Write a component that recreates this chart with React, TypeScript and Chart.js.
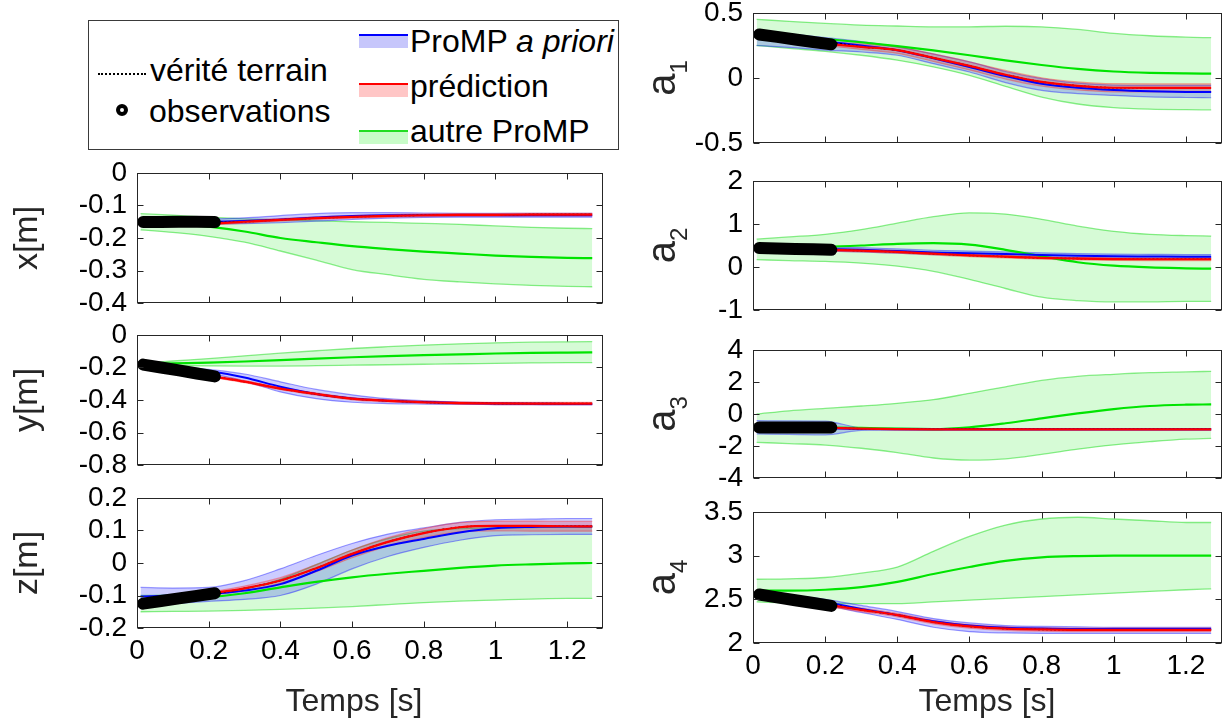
import React, { useEffect, useRef } from "react";
import { Chart, registerables } from "chart.js";

Chart.register(...registerables);

const FONT = "'Liberation Sans', Arial, Helvetica, sans-serif";

// ---------- shared axes / grids ----------
const T = [0.01, 0.1, 0.2, 0.3, 0.4, 0.5, 0.6, 0.7, 0.8, 0.9, 1.0, 1.1, 1.2, 1.27];
const TP = [0.217, 0.3, 0.4, 0.5, 0.6, 0.7, 0.8, 0.9, 1.0, 1.1, 1.2, 1.27];
const TOBS = [0.017, 0.067, 0.117, 0.167, 0.217];
const X_TICKS = [0, 0.2, 0.4, 0.6, 0.8, 1, 1.2];
const X_MAX = 1.3;
const X_TITLE = "Temps [s]";

// ---------- x[m] ----------
const xTicks = [0, -0.1, -0.2, -0.3, -0.4];
const xGreenMean = [-0.150, -0.155, -0.165, -0.180, -0.200, -0.213, -0.225, -0.234, -0.242, -0.248, -0.254, -0.258, -0.261, -0.262];
const xGreenUp = [-0.125, -0.130, -0.136, -0.141, -0.144, -0.147, -0.150, -0.152, -0.155, -0.158, -0.163, -0.167, -0.170, -0.171];
const xGreenLo = [-0.175, -0.183, -0.195, -0.213, -0.240, -0.268, -0.297, -0.313, -0.327, -0.335, -0.341, -0.346, -0.349, -0.350];
const xBlueMean = [-0.150, -0.150, -0.150, -0.148, -0.143, -0.137, -0.132, -0.130, -0.130, -0.130, -0.130, -0.130, -0.130, -0.130];
const xBlueUp = [-0.143, -0.143, -0.142, -0.138, -0.131, -0.125, -0.122, -0.122, -0.123, -0.124, -0.124, -0.124, -0.124, -0.124];
const xBlueLo = [-0.157, -0.157, -0.157, -0.156, -0.153, -0.148, -0.143, -0.139, -0.137, -0.136, -0.136, -0.136, -0.136, -0.136];
const xRedMean = [-0.155, -0.150, -0.144, -0.139, -0.135, -0.132, -0.130, -0.129, -0.129, -0.128, -0.128, -0.128];
const xRedUp = [-0.151, -0.146, -0.140, -0.135, -0.131, -0.128, -0.126, -0.125, -0.125, -0.124, -0.124, -0.124];
const xRedLo = [-0.159, -0.154, -0.148, -0.143, -0.139, -0.136, -0.134, -0.133, -0.133, -0.132, -0.132, -0.132];
const xTruth = [-0.151, -0.151, -0.152, -0.150, -0.144, -0.139, -0.135, -0.132, -0.130, -0.129, -0.129, -0.128, -0.128, -0.128];
const xObs = [-0.151, -0.151, -0.150, -0.150, -0.151];

// ---------- y[m] ----------
const yTicks = [0, -0.2, -0.4, -0.6, -0.8];
const yGreenMean = [-0.180, -0.175, -0.170, -0.163, -0.155, -0.145, -0.137, -0.130, -0.124, -0.119, -0.114, -0.110, -0.108, -0.107];
const yGreenUp = [-0.175, -0.160, -0.145, -0.128, -0.112, -0.097, -0.083, -0.072, -0.062, -0.054, -0.048, -0.044, -0.042, -0.041];
const yGreenLo = [-0.185, -0.188, -0.190, -0.191, -0.191, -0.189, -0.186, -0.183, -0.180, -0.177, -0.175, -0.172, -0.170, -0.170];
const yBlueMean = [-0.182, -0.200, -0.222, -0.262, -0.318, -0.363, -0.390, -0.405, -0.413, -0.418, -0.421, -0.423, -0.424, -0.425];
const yBlueUp = [-0.175, -0.192, -0.212, -0.240, -0.288, -0.335, -0.368, -0.392, -0.405, -0.413, -0.417, -0.419, -0.420, -0.420];
const yBlueLo = [-0.190, -0.210, -0.235, -0.285, -0.350, -0.392, -0.414, -0.422, -0.425, -0.427, -0.428, -0.429, -0.430, -0.430];
const yRedMean = [-0.257, -0.287, -0.330, -0.363, -0.392, -0.405, -0.414, -0.419, -0.421, -0.422, -0.422, -0.422];
const yRedUp = [-0.250, -0.280, -0.323, -0.356, -0.385, -0.398, -0.407, -0.412, -0.414, -0.415, -0.415, -0.415];
const yRedLo = [-0.264, -0.294, -0.337, -0.370, -0.399, -0.412, -0.421, -0.426, -0.428, -0.429, -0.429, -0.429];
const yTruth = [-0.180, -0.216, -0.250, -0.287, -0.330, -0.363, -0.392, -0.405, -0.414, -0.419, -0.421, -0.422, -0.422, -0.422];
const yObs = [-0.182, -0.200, -0.218, -0.237, -0.255];

// ---------- z[m] ----------
const zTicks = [0.2, 0.1, 0, -0.1, -0.2];
const zGreenMean = [-0.115, -0.110, -0.105, -0.093, -0.075, -0.058, -0.044, -0.033, -0.024, -0.015, -0.008, -0.004, -0.001, 0.000];
const zGreenUp = [-0.100, -0.098, -0.094, -0.080, -0.050, -0.005, 0.040, 0.075, 0.098, 0.106, 0.108, 0.109, 0.110, 0.110];
const zGreenLo = [-0.150, -0.149, -0.148, -0.146, -0.143, -0.139, -0.134, -0.128, -0.122, -0.117, -0.114, -0.111, -0.109, -0.109];
const zBlueMean = [-0.103, -0.100, -0.096, -0.085, -0.065, -0.024, 0.023, 0.053, 0.074, 0.094, 0.107, 0.111, 0.112, 0.112];
const zBlueUp = [-0.075, -0.077, -0.075, -0.054, -0.018, 0.023, 0.060, 0.089, 0.108, 0.125, 0.133, 0.135, 0.137, 0.137];
const zBlueLo = [-0.130, -0.125, -0.118, -0.112, -0.100, -0.065, -0.018, 0.020, 0.048, 0.070, 0.084, 0.087, 0.088, 0.088];
const zRedMean = [-0.092, -0.078, -0.054, -0.016, 0.028, 0.065, 0.092, 0.110, 0.114, 0.114, 0.113, 0.113];
const zRedUp = [-0.087, -0.071, -0.045, -0.005, 0.040, 0.078, 0.106, 0.124, 0.129, 0.129, 0.128, 0.128];
const zRedLo = [-0.097, -0.085, -0.063, -0.027, 0.016, 0.052, 0.078, 0.096, 0.099, 0.098, 0.098, 0.098];
const zTruth = [-0.125, -0.115, -0.098, -0.078, -0.054, -0.016, 0.028, 0.065, 0.092, 0.110, 0.114, 0.114, 0.113, 0.113];
const zObs = [-0.125, -0.117, -0.109, -0.101, -0.093];

// ---------- a1 ----------
const a1Ticks = [0.5, 0, -0.5];
const a1GreenMean = [0.340, 0.320, 0.300, 0.275, 0.245, 0.212, 0.175, 0.135, 0.100, 0.070, 0.050, 0.040, 0.035, 0.033];
const a1GreenUp = [0.451, 0.436, 0.420, 0.407, 0.400, 0.394, 0.394, 0.398, 0.394, 0.374, 0.343, 0.325, 0.314, 0.310];
const a1GreenLo = [0.250, 0.228, 0.205, 0.175, 0.137, 0.085, 0.020, -0.065, -0.147, -0.200, -0.228, -0.240, -0.244, -0.245];
const a1BlueMean = [0.330, 0.305, 0.280, 0.250, 0.214, 0.152, 0.085, 0.015, -0.044, -0.075, -0.092, -0.102, -0.107, -0.108];
const a1BlueUp = [0.360, 0.340, 0.310, 0.280, 0.240, 0.185, 0.124, 0.050, -0.005, -0.040, -0.055, -0.057, -0.057, -0.057];
const a1BlueLo = [0.250, 0.235, 0.215, 0.200, 0.175, 0.110, 0.046, -0.035, -0.095, -0.120, -0.134, -0.145, -0.150, -0.152];
const a1RedMean = [0.260, 0.240, 0.214, 0.155, 0.093, 0.025, -0.030, -0.060, -0.075, -0.076, -0.076, -0.076];
const a1RedUp = [0.275, 0.262, 0.240, 0.185, 0.125, 0.058, 0.002, -0.030, -0.044, -0.045, -0.045, -0.045];
const a1RedLo = [0.245, 0.220, 0.190, 0.127, 0.062, -0.008, -0.062, -0.092, -0.106, -0.107, -0.107, -0.107];
const a1Truth = [0.335, 0.310, 0.280, 0.240, 0.214, 0.155, 0.093, 0.025, -0.030, -0.060, -0.075, -0.076, -0.076, -0.076];
const a1Obs = [0.335, 0.316, 0.296, 0.277, 0.259];

// ---------- a2 ----------
const a2Ticks = [2, 1, 0, -1];
const a2GreenMean = [0.45, 0.46, 0.47, 0.50, 0.54, 0.555, 0.52, 0.40, 0.25, 0.11, 0.03, -0.01, -0.03, -0.04];
const a2GreenUp = [0.65, 0.70, 0.76, 0.87, 1.02, 1.17, 1.26, 1.23, 1.11, 0.95, 0.83, 0.76, 0.73, 0.72];
const a2GreenLo = [0.17, 0.15, 0.13, 0.09, 0.02, -0.10, -0.29, -0.50, -0.70, -0.78, -0.81, -0.81, -0.80, -0.80];
const a2BlueMean = [0.45, 0.44, 0.42, 0.40, 0.37, 0.34, 0.32, 0.30, 0.28, 0.26, 0.25, 0.245, 0.24, 0.24];
const a2BlueUp = [0.50, 0.49, 0.47, 0.45, 0.42, 0.39, 0.37, 0.35, 0.33, 0.31, 0.30, 0.295, 0.29, 0.29];
const a2BlueLo = [0.40, 0.39, 0.37, 0.35, 0.32, 0.29, 0.27, 0.25, 0.23, 0.21, 0.20, 0.195, 0.19, 0.19];
const a2RedMean = [0.40, 0.38, 0.35, 0.31, 0.27, 0.24, 0.21, 0.195, 0.185, 0.18, 0.18, 0.18];
const a2RedUp = [0.43, 0.41, 0.38, 0.34, 0.30, 0.27, 0.24, 0.225, 0.215, 0.21, 0.21, 0.21];
const a2RedLo = [0.37, 0.35, 0.32, 0.28, 0.24, 0.21, 0.18, 0.165, 0.155, 0.15, 0.15, 0.15];
const a2Truth = [0.44, 0.42, 0.40, 0.38, 0.35, 0.31, 0.27, 0.24, 0.21, 0.195, 0.185, 0.18, 0.18, 0.18];
const a2Obs = [0.44, 0.43, 0.42, 0.41, 0.40];

// ---------- a3 ----------
const a3Ticks = [4, 2, 0, -2, -4];
const a3GreenMean = [-0.85, -0.85, -0.85, -0.87, -0.92, -0.94, -0.83, -0.58, -0.27, 0.04, 0.31, 0.50, 0.58, 0.60];
const a3GreenUp = [0.00, 0.20, 0.35, 0.50, 0.67, 0.90, 1.29, 1.70, 2.10, 2.35, 2.48, 2.58, 2.63, 2.67];
const a3GreenLo = [-1.77, -1.85, -1.94, -2.14, -2.41, -2.75, -2.88, -2.80, -2.52, -2.20, -1.93, -1.73, -1.57, -1.52];
const a3BlueMean = [-0.85, -0.87, -0.90, -0.93, -0.95, -0.96, -0.96, -0.96, -0.96, -0.96, -0.96, -0.96, -0.96, -0.96];
const a3BlueUp = [-0.42, -0.43, -0.45, -0.86, -0.90, -0.91, -0.91, -0.91, -0.91, -0.91, -0.91, -0.91, -0.91, -0.91];
const a3BlueLo = [-1.25, -1.27, -1.30, -1.02, -1.00, -1.01, -1.01, -1.01, -1.01, -1.01, -1.01, -1.01, -1.01, -1.01];
const a3RedMean = [-0.86, -0.92, -0.95, -0.96, -0.96, -0.96, -0.96, -0.96, -0.96, -0.96, -0.96, -0.96];
const a3RedUp = [-0.82, -0.88, -0.91, -0.92, -0.92, -0.92, -0.92, -0.92, -0.92, -0.92, -0.92, -0.92];
const a3RedLo = [-0.90, -0.96, -0.99, -1.00, -1.00, -1.00, -1.00, -1.00, -1.00, -1.00, -1.00, -1.00];
const a3Truth = [-0.85, -0.85, -0.86, -0.92, -0.95, -0.96, -0.96, -0.96, -0.96, -0.96, -0.96, -0.96, -0.96, -0.96];
const a3Obs = [-0.85, -0.85, -0.85, -0.85, -0.85];

// ---------- a4 ----------
const a4Ticks = [3.5, 3, 2.5, 2];
const a4GreenMean = [2.60, 2.60, 2.61, 2.64, 2.70, 2.79, 2.87, 2.94, 2.98, 2.995, 3.00, 3.00, 3.00, 3.00];
const a4GreenUp = [2.73, 2.735, 2.75, 2.80, 2.87, 3.05, 3.22, 3.35, 3.42, 3.44, 3.42, 3.40, 3.38, 3.38];
const a4GreenLo = [2.47, 2.46, 2.455, 2.45, 2.45, 2.47, 2.49, 2.51, 2.53, 2.55, 2.57, 2.59, 2.61, 2.62];
const a4BlueMean = [2.565, 2.52, 2.47, 2.39, 2.32, 2.25, 2.20, 2.175, 2.165, 2.16, 2.16, 2.16, 2.16, 2.16];
const a4BlueUp = [2.59, 2.55, 2.50, 2.43, 2.36, 2.28, 2.23, 2.20, 2.19, 2.185, 2.18, 2.18, 2.18, 2.18];
const a4BlueLo = [2.54, 2.49, 2.43, 2.35, 2.27, 2.18, 2.13, 2.115, 2.11, 2.11, 2.11, 2.11, 2.11, 2.11];
const a4RedMean = [2.43, 2.38, 2.32, 2.24, 2.19, 2.165, 2.155, 2.15, 2.15, 2.15, 2.15, 2.15];
const a4RedUp = [2.45, 2.40, 2.34, 2.26, 2.21, 2.185, 2.175, 2.17, 2.17, 2.17, 2.17, 2.17];
const a4RedLo = [2.41, 2.36, 2.30, 2.22, 2.17, 2.145, 2.135, 2.13, 2.13, 2.13, 2.13, 2.13];
const a4Truth = [2.555, 2.52, 2.455, 2.38, 2.32, 2.24, 2.19, 2.165, 2.155, 2.15, 2.15, 2.15, 2.15, 2.15];
const a4Obs = [2.555, 2.522, 2.49, 2.458, 2.425];

// ---------- layout (pixels) ----------
const LEFT_COL = { L: 137, R: 603, cx: 0, cw: 625, titleX: 37 };
const RIGHT_COL = { L: 753, R: 1222, cx: 625, cw: 600, titleX: 675 };

type Series = {
  gM: number[]; gU: number[]; gL: number[];
  bM: number[]; bU: number[]; bL: number[];
  rM: number[]; rU: number[]; rL: number[];
  truth: number[]; obs: number[];
};

type PanelSpec = {
  title: string; sub: string; ticks: number[]; s: Series;
  col: typeof LEFT_COL; T: number; B: number; showX: boolean; xTitleX: number;
};

const PANELS: PanelSpec[] = [
  { title: "x[m]", sub: "", ticks: xTicks, col: LEFT_COL, T: 173, B: 303, showX: false, xTitleX: 0,
    s: { gM: xGreenMean, gU: xGreenUp, gL: xGreenLo, bM: xBlueMean, bU: xBlueUp, bL: xBlueLo, rM: xRedMean, rU: xRedUp, rL: xRedLo, truth: xTruth, obs: xObs } },
  { title: "y[m]", sub: "", ticks: yTicks, col: LEFT_COL, T: 335, B: 465, showX: false, xTitleX: 0,
    s: { gM: yGreenMean, gU: yGreenUp, gL: yGreenLo, bM: yBlueMean, bU: yBlueUp, bL: yBlueLo, rM: yRedMean, rU: yRedUp, rL: yRedLo, truth: yTruth, obs: yObs } },
  { title: "z[m]", sub: "", ticks: zTicks, col: LEFT_COL, T: 498, B: 628, showX: true, xTitleX: 354,
    s: { gM: zGreenMean, gU: zGreenUp, gL: zGreenLo, bM: zBlueMean, bU: zBlueUp, bL: zBlueLo, rM: zRedMean, rU: zRedUp, rL: zRedLo, truth: zTruth, obs: zObs } },
  { title: "a", sub: "1", ticks: a1Ticks, col: RIGHT_COL, T: 13, B: 143, showX: false, xTitleX: 0,
    s: { gM: a1GreenMean, gU: a1GreenUp, gL: a1GreenLo, bM: a1BlueMean, bU: a1BlueUp, bL: a1BlueLo, rM: a1RedMean, rU: a1RedUp, rL: a1RedLo, truth: a1Truth, obs: a1Obs } },
  { title: "a", sub: "2", ticks: a2Ticks, col: RIGHT_COL, T: 181, B: 310, showX: false, xTitleX: 0,
    s: { gM: a2GreenMean, gU: a2GreenUp, gL: a2GreenLo, bM: a2BlueMean, bU: a2BlueUp, bL: a2BlueLo, rM: a2RedMean, rU: a2RedUp, rL: a2RedLo, truth: a2Truth, obs: a2Obs } },
  { title: "a", sub: "3", ticks: a3Ticks, col: RIGHT_COL, T: 350, B: 478, showX: false, xTitleX: 0,
    s: { gM: a3GreenMean, gU: a3GreenUp, gL: a3GreenLo, bM: a3BlueMean, bU: a3BlueUp, bL: a3BlueLo, rM: a3RedMean, rU: a3RedUp, rL: a3RedLo, truth: a3Truth, obs: a3Obs } },
  { title: "a", sub: "4", ticks: a4Ticks, col: RIGHT_COL, T: 512, B: 643, showX: true, xTitleX: 987,
    s: { gM: a4GreenMean, gU: a4GreenUp, gL: a4GreenLo, bM: a4BlueMean, bU: a4BlueUp, bL: a4BlueLo, rM: a4RedMean, rU: a4RedUp, rL: a4RedLo, truth: a4Truth, obs: a4Obs } },
];

const pts = (ts: number[], vs: number[]) => vs.map((v, i) => ({ x: ts[i], y: v }));
const fmt = (v: any) => String(Math.round(Number(v) * 1000) / 1000);

function lineDs(data: any[], color: string, width: number, extra: any = {}) {
  return {
    data, borderColor: color, borderWidth: width, pointRadius: 0, pointHoverRadius: 0,
    fill: false, cubicInterpolationMode: "monotone", ...extra,
  };
}

function Panel({ spec }: { spec: PanelSpec }) {
  const ref = useRef<HTMLCanvasElement | null>(null);
  const { col, T: top, B: bottom } = spec;
  const cy = top - 30;
  const ch = spec.showX ? 718 - cy : bottom + 30 - cy;

  useEffect(() => {
    const canvas = ref.current;
    if (!canvas) return;
    const s = spec.s;
    const ymin = Math.min(...spec.ticks);
    const ymax = Math.max(...spec.ticks);

    const datasets: any[] = [
      lineDs(pts(TOBS, s.obs), "#000000", 12, { borderCapStyle: "round", borderJoinStyle: "round", cubicInterpolationMode: "default", tension: 0 }),
      lineDs(pts(TP, s.rM), "#ff0000", 2.2),
      lineDs(pts(T, s.truth), "#000000", 1.5, { borderDash: [2, 2] }),
      lineDs(pts(T, s.bM), "#0000ff", 2),
      lineDs(pts(T, s.gM), "#00e400", 2.2),
      lineDs(pts(TP, s.rU), "rgba(255,40,40,0.4)", 1.2, { fill: 6, backgroundColor: "rgba(255,0,0,0.2)" }),
      lineDs(pts(TP, s.rL), "rgba(255,40,40,0.4)", 1.2),
      lineDs(pts(T, s.bU), "rgba(30,30,255,0.45)", 1.2, { fill: 8, backgroundColor: "rgba(0,0,255,0.2)" }),
      lineDs(pts(T, s.bL), "rgba(30,30,255,0.45)", 1.2),
      lineDs(pts(T, s.gU), "rgba(0,215,0,0.45)", 1.3, { fill: 10, backgroundColor: "rgba(0,230,0,0.16)" }),
      lineDs(pts(T, s.gL), "rgba(0,215,0,0.45)", 1.3),
    ];

    const decor = {
      id: "decor",
      afterDatasetsDraw(chart: any) {
        const ctx = chart.ctx as CanvasRenderingContext2D;
        const a = chart.chartArea;
        const xs = chart.scales.x;
        const ys = chart.scales.y;
        ctx.save();
        ctx.strokeStyle = "#262626";
        ctx.lineWidth = 1;
        const l = Math.round(a.left) + 0.5;
        const r = Math.round(a.right) - 0.5;
        const t = Math.round(a.top) + 0.5;
        const b = Math.round(a.bottom) - 0.5;
        ctx.strokeRect(l, t, r - l, b - t);
        ctx.beginPath();
        for (const v of X_TICKS) {
          const p = Math.round(xs.getPixelForValue(v)) + 0.5;
          ctx.moveTo(p, b); ctx.lineTo(p, b - 6);
          ctx.moveTo(p, t); ctx.lineTo(p, t + 6);
        }
        for (const v of spec.ticks) {
          const p = Math.round(ys.getPixelForValue(v)) + 0.5;
          ctx.moveTo(l, p); ctx.lineTo(l + 6, p);
          ctx.moveTo(r, p); ctx.lineTo(r - 6, p);
        }
        ctx.stroke();

        // y title (rotated)
        ctx.fillStyle = "#262626";
        const midY = (a.top + a.bottom) / 2;
        const baseX = col.titleX - col.cx;
        ctx.translate(baseX, midY);
        ctx.rotate(-Math.PI / 2);
        ctx.textBaseline = "alphabetic";
        if (spec.sub) {
          ctx.font = `40px ${FONT}`;
          const wa = ctx.measureText(spec.title).width;
          ctx.font = `24px ${FONT}`;
          const ws = ctx.measureText(spec.sub).width;
          const start = -(wa + ws) / 2;
          ctx.textAlign = "left";
          ctx.font = `40px ${FONT}`;
          ctx.fillText(spec.title, start, 0);
          ctx.font = `24px ${FONT}`;
          ctx.fillText(spec.sub, start + wa, 12);
        } else {
          ctx.font = `34px ${FONT}`;
          ctx.textAlign = "center";
          ctx.fillText(spec.title, 0, 0);
        }
        ctx.setTransform(1, 0, 0, 1, 0, 0);

        if (spec.showX) {
          ctx.font = `32px ${FONT}`;
          ctx.textAlign = "center";
          ctx.textBaseline = "alphabetic";
          ctx.fillStyle = "#262626";
          ctx.fillText(X_TITLE, spec.xTitleX - col.cx, 711 - cy);
        }
        ctx.restore();
      },
    };

    const chart = new Chart(canvas, {
      type: "line",
      data: { datasets },
      plugins: [decor],
      options: {
        responsive: false,
        maintainAspectRatio: false,
        animation: false,
        devicePixelRatio: 1,
        events: [],
        layout: { padding: { left: 0, top: top - cy, right: col.cx + col.cw - col.R, bottom: 0 } },
        plugins: { legend: { display: false }, tooltip: { enabled: false } },
        scales: {
          x: {
            type: "linear", min: 0, max: X_MAX,
            grid: { display: false, drawTicks: false },
            border: { display: false },
            ticks: { display: spec.showX, font: { family: FONT, size: 28 }, color: "#000", padding: 6, maxRotation: 0, autoSkip: false, callback: fmt },
            afterBuildTicks: (sc: any) => { sc.ticks = X_TICKS.map((v) => ({ value: v })); },
            afterFit: (sc: any) => { sc.height = cy + ch - bottom; sc.paddingLeft = 0; sc.paddingRight = 0; },
          },
          y: {
            type: "linear", min: ymin, max: ymax,
            grid: { display: false, drawTicks: false },
            border: { display: false },
            ticks: { font: { family: FONT, size: 28 }, color: "#000", padding: 10, autoSkip: false, callback: fmt },
            afterBuildTicks: (sc: any) => { sc.ticks = spec.ticks.map((v) => ({ value: v })); },
            afterFit: (sc: any) => { sc.width = col.L - col.cx; sc.paddingTop = 0; sc.paddingBottom = 0; },
          },
        },
      } as any,
    });
    return () => chart.destroy();
  }, [spec]);

  return (
    <canvas
      ref={ref}
      width={col.cw}
      height={ch}
      style={{ position: "absolute", left: col.cx, top: cy, width: col.cw, height: ch }}
    />
  );
}

const LEG = {
  truth: "vérité terrain",
  obs: "observations",
  prior: "ProMP",
  priorIt: "a priori",
  pred: "prédiction",
  other: "autre ProMP",
};

function Legend() {
  const txt: React.CSSProperties = { position: "absolute", whiteSpace: "nowrap", lineHeight: "32px", fontSize: 32, fontFamily: FONT, color: "#000" };
  const sw = (top: number, line: string, fillc: string) => (
    <>
      <div style={{ position: "absolute", left: 270, top, width: 49, height: 2, background: line }} />
      <div style={{ position: "absolute", left: 270, top: top + 2, width: 49, height: 12, background: fillc }} />
    </>
  );
  return (
    <div style={{ position: "absolute", left: 88, top: 20, width: 531, height: 130, border: "1px solid #3a3a3a", boxSizing: "border-box", background: "#fff" }}>
      <div style={{ position: "absolute", left: 9, top: 52, width: 48, height: 0, borderTop: "2px dotted #000" }} />
      <div style={{ ...txt, left: 61, top: 33 }}>{LEG.truth}</div>
      <div style={{ position: "absolute", left: 27, top: 83, width: 12, height: 12, borderRadius: "50%", border: "4px solid #000", boxSizing: "border-box", background: "#fff" }} />
      <div style={{ ...txt, left: 60, top: 74 }}>{LEG.obs}</div>
      {sw(13, "#0000ff", "#c6c6fb")}
      <div style={{ ...txt, left: 321, top: 4 }}>{LEG.prior} <span style={{ fontStyle: "italic" }}>{LEG.priorIt}</span></div>
      {sw(62, "#ff0000", "#ffc6c6")}
      <div style={{ ...txt, left: 321, top: 49 }}>{LEG.pred}</div>
      {sw(109, "#22dd22", "#c8fcc8")}
      <div style={{ ...txt, left: 321, top: 94 }}>{LEG.other}</div>
    </div>
  );
}

export default function App() {
  return (
    <div style={{ position: "absolute", left: 0, top: 0, width: 1225, height: 718, background: "#fff", overflow: "hidden" }}>
      {PANELS.map((p, i) => (
        <Panel key={i} spec={p} />
      ))}
      <Legend />
    </div>
  );
}
